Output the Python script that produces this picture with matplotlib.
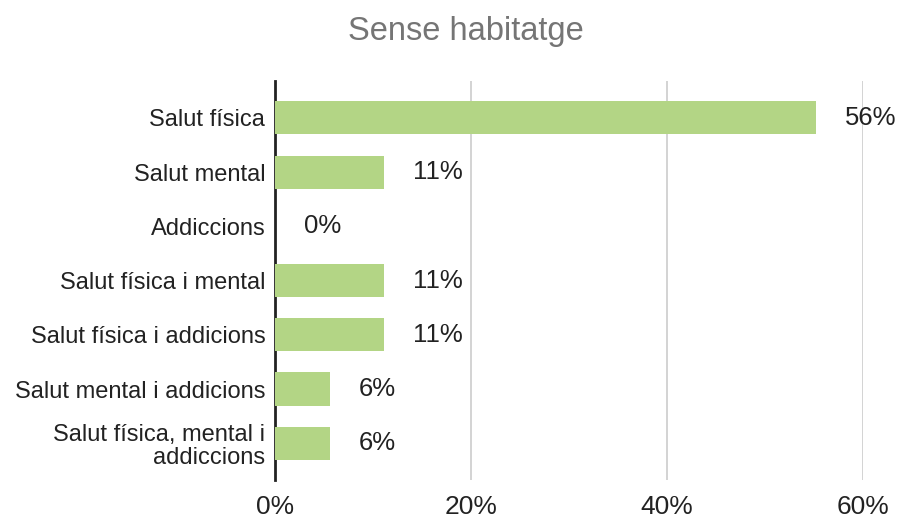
import matplotlib
matplotlib.use("Agg")
import matplotlib.pyplot as plt
from matplotlib.ticker import FuncFormatter

plt.rcParams["font.family"] = ["Liberation Sans", "DejaVu Sans"]

# Data
categories = [
    "Salut física",
    "Salut mental",
    "Addiccions",
    "Salut física i mental",
    "Salut física i addicions",
    "Salut mental i addicions",
    "Salut física, mental i\naddiccions",
]
values = [55.2, 11.1, 0.0, 11.1, 11.1, 5.6, 5.6]
value_labels = ["56%", "11%", "0%", "11%", "11%", "6%", "6%"]
xticks = [0, 20, 40, 60]

fig = plt.figure(figsize=(9, 5.23), dpi=100)
ax = fig.add_axes([0.3056, 0.082, 0.6533, 0.763])

y = list(range(len(categories)))
ax.barh(y, values, height=0.61, color="#b3d585", zorder=3)

for yi, v, lab in zip(y, values, value_labels):
    ax.annotate(lab, (v, yi), xytext=(21, 0), textcoords="offset points",
                ha="left", va="center", fontsize=18.5, color="#222222",
                annotation_clip=False)

ax.set_yticks(y)
ax.set_yticklabels(categories, fontsize=17, color="#222222",
                   linespacing=1.05)
ax.set_ylim(6.68, -0.68)
ax.set_xlim(0, 60)
ax.set_xticks(xticks)
ax.xaxis.set_major_formatter(FuncFormatter(lambda v, p: f"{v:.0f}%"))
ax.tick_params(axis="x", length=0, pad=11, labelsize=19, labelcolor="#222222")
ax.tick_params(axis="y", length=0, pad=7)

ax.grid(axis="x", color="#cccccc", linewidth=1.2, zorder=0)
for s in ["top", "right", "bottom"]:
    ax.spines[s].set_visible(False)
ax.spines["left"].set_color("#222222")
ax.spines["left"].set_linewidth(2)
ax.spines["left"].set_zorder(2)

fig.text(0.518, 0.94, "Sense habitatge", ha="center", va="center",
         fontsize=23.5, color="#757575")

fig.savefig("out.png", dpi=100)
